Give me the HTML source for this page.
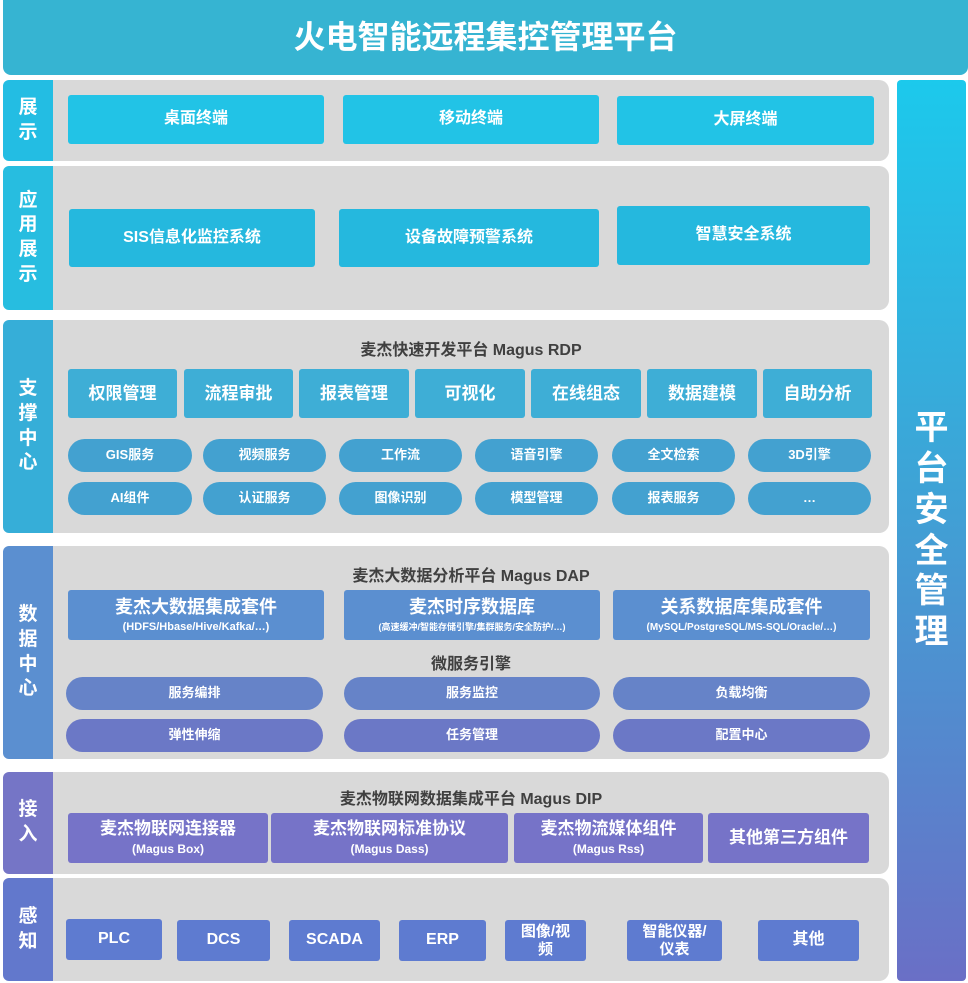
<!DOCTYPE html>
<html><head><meta charset="utf-8"><style>
body{margin:0;width:968px;height:983px;background:#fff;position:relative;overflow:hidden;font-family:"Liberation Sans","Noto Sans CJK SC",sans-serif;font-weight:bold}
div{position:absolute;box-sizing:border-box}
.c{display:flex;align-items:center;justify-content:center;text-align:center;color:#fff;flex-direction:column;line-height:1.15}
.p{background:#d9d9d9;border-radius:0 10px 10px 0}
.l{border-radius:6px 0 0 6px;font-size:19px;line-height:1.3;padding:0 2px}
.b{border-radius:3px}
.t{color:#404040;font-size:16px;text-align:center;white-space:nowrap}
.pill{border-radius:17px;font-size:13px}
</style></head><body>
<div class="c" style="left:3px;top:0;width:965px;height:75px;background:#36b4d2;border-radius:0 0 8px 8px;font-size:32px">火电智能远程集控管理平台</div>
<div class="c" style="left:897px;top:80px;width:69px;height:901px;border-radius:4px;background:linear-gradient(#1cc9ec,#3ea3d6 45%,#6a6fc6);font-size:34px;line-height:1.2">平<br>台<br>安<br>全<br>管<br>理</div>

<!-- 展示 -->
<div class="p" style="left:53px;top:80px;width:836px;height:81px"></div>
<div class="c l" style="left:3px;top:80px;width:50px;height:81px;background:#23bde3">展<br>示</div>
<div class="c b" style="left:68px;top:95px;width:256px;height:49px;background:#22c3e6;font-size:16px">桌面终端</div>
<div class="c b" style="left:343px;top:95px;width:256px;height:49px;background:#22c3e6;font-size:16px">移动终端</div>
<div class="c b" style="left:617px;top:96px;width:257px;height:49px;background:#22c3e6;font-size:16px">大屏终端</div>

<!-- 应用展示 -->
<div class="p" style="left:53px;top:166px;width:836px;height:144px"></div>
<div class="c l" style="left:3px;top:166px;width:50px;height:144px;background:#27bde0">应<br>用<br>展<br>示</div>
<div class="c b" style="left:69px;top:209px;width:246px;height:58px;background:#25b8de;font-size:16px">SIS信息化监控系统</div>
<div class="c b" style="left:339px;top:209px;width:260px;height:58px;background:#25b8de;font-size:16px">设备故障预警系统</div>
<div class="c b" style="left:617px;top:206px;width:253px;height:59px;background:#25b8de;font-size:16px">智慧安全系统</div>

<!-- 支撑中心 -->
<div class="p" style="left:53px;top:320px;width:836px;height:213px"></div>
<div class="c l" style="left:3px;top:320px;width:50px;height:213px;background:#36aed8">支<br>撑<br>中<br>心</div>
<div class="t" style="left:53px;top:336px;width:836px">麦杰快速开发平台 Magus RDP</div>
<div class="c b" style="left:68px;top:369px;width:109px;height:49px;background:#3eaed6;font-size:17px">权限管理</div>
<div class="c b" style="left:184px;top:369px;width:109px;height:49px;background:#3eaed6;font-size:17px">流程审批</div>
<div class="c b" style="left:299px;top:369px;width:110px;height:49px;background:#3eaed6;font-size:17px">报表管理</div>
<div class="c b" style="left:415px;top:369px;width:110px;height:49px;background:#3eaed6;font-size:17px">可视化</div>
<div class="c b" style="left:531px;top:369px;width:110px;height:49px;background:#3eaed6;font-size:17px">在线组态</div>
<div class="c b" style="left:647px;top:369px;width:110px;height:49px;background:#3eaed6;font-size:17px">数据建模</div>
<div class="c b" style="left:763px;top:369px;width:109px;height:49px;background:#3eaed6;font-size:17px">自助分析</div>
<div class="c pill" style="left:68px;top:439px;width:124px;height:33px;background:#43a1d0">GIS服务</div>
<div class="c pill" style="left:203px;top:439px;width:123px;height:33px;background:#43a1d0">视频服务</div>
<div class="c pill" style="left:339px;top:439px;width:123px;height:33px;background:#43a1d0">工作流</div>
<div class="c pill" style="left:475px;top:439px;width:123px;height:33px;background:#43a1d0">语音引擎</div>
<div class="c pill" style="left:612px;top:439px;width:123px;height:33px;background:#43a1d0">全文检索</div>
<div class="c pill" style="left:748px;top:439px;width:123px;height:33px;background:#43a1d0">3D引擎</div>
<div class="c pill" style="left:68px;top:482px;width:124px;height:33px;background:#43a1d0">AI组件</div>
<div class="c pill" style="left:203px;top:482px;width:123px;height:33px;background:#43a1d0">认证服务</div>
<div class="c pill" style="left:339px;top:482px;width:123px;height:33px;background:#43a1d0">图像识别</div>
<div class="c pill" style="left:475px;top:482px;width:123px;height:33px;background:#43a1d0">模型管理</div>
<div class="c pill" style="left:612px;top:482px;width:123px;height:33px;background:#43a1d0">报表服务</div>
<div class="c pill" style="left:748px;top:482px;width:123px;height:33px;background:#43a1d0">…</div>

<!-- 数据中心 -->
<div class="p" style="left:53px;top:546px;width:836px;height:213px"></div>
<div class="c l" style="left:3px;top:546px;width:50px;height:213px;background:#5b8fd0">数<br>据<br>中<br>心</div>
<div class="t" style="left:53px;top:562px;width:836px">麦杰大数据分析平台 Magus DAP</div>
<div class="c b" style="left:68px;top:590px;width:256px;height:50px;background:#5b8fd0;font-size:18px">麦杰大数据集成套件<span style="font-size:11px;margin-top:3px">(HDFS/Hbase/Hive/Kafka/…)</span></div>
<div class="c b" style="left:344px;top:590px;width:256px;height:50px;background:#5b8fd0;font-size:18px">麦杰时序数据库<span style="font-size:9px;margin-top:4px">(高速缓冲/智能存储引擎/集群服务/安全防护/…)</span></div>
<div class="c b" style="left:613px;top:590px;width:257px;height:50px;background:#5b8fd0;font-size:18px">关系数据库集成套件<span style="font-size:10px;margin-top:4px">(MySQL/PostgreSQL/MS-SQL/Oracle/…)</span></div>
<div class="t" style="left:53px;top:650px;width:836px">微服务引擎</div>
<div class="c pill" style="left:66px;top:677px;width:257px;height:33px;background:#6683c8">服务编排</div>
<div class="c pill" style="left:344px;top:677px;width:256px;height:33px;background:#6683c8">服务监控</div>
<div class="c pill" style="left:613px;top:677px;width:257px;height:33px;background:#6683c8">负载均衡</div>
<div class="c pill" style="left:66px;top:719px;width:257px;height:33px;background:#6b78c6">弹性伸缩</div>
<div class="c pill" style="left:344px;top:719px;width:256px;height:33px;background:#6b78c6">任务管理</div>
<div class="c pill" style="left:613px;top:719px;width:257px;height:33px;background:#6b78c6">配置中心</div>

<!-- 接入 -->
<div class="p" style="left:53px;top:772px;width:836px;height:102px"></div>
<div class="c l" style="left:3px;top:772px;width:50px;height:102px;background:#7575c6">接<br>入</div>
<div class="t" style="left:53px;top:785px;width:836px">麦杰物联网数据集成平台 Magus DIP</div>
<div class="c b" style="left:68px;top:813px;width:200px;height:50px;background:#7673c8;font-size:17px">麦杰物联网连接器<span style="font-size:12px;margin-top:4px">(Magus Box)</span></div>
<div class="c b" style="left:271px;top:813px;width:237px;height:50px;background:#7673c8;font-size:17px">麦杰物联网标准协议<span style="font-size:12px;margin-top:4px">(Magus Dass)</span></div>
<div class="c b" style="left:514px;top:813px;width:189px;height:50px;background:#7673c8;font-size:17px">麦杰物流媒体组件<span style="font-size:12px;margin-top:4px">(Magus Rss)</span></div>
<div class="c b" style="left:708px;top:813px;width:161px;height:50px;background:#7673c8;font-size:17px">其他第三方组件</div>

<!-- 感知 -->
<div class="p" style="left:53px;top:878px;width:836px;height:103px"></div>
<div class="c l" style="left:3px;top:878px;width:50px;height:103px;background:#6278cc">感<br>知</div>
<div class="c b" style="left:66px;top:919px;width:96px;height:41px;background:#5e7bd0;font-size:16px">PLC</div>
<div class="c b" style="left:177px;top:920px;width:93px;height:41px;background:#5e7bd0;font-size:16px">DCS</div>
<div class="c b" style="left:289px;top:920px;width:91px;height:41px;background:#5e7bd0;font-size:16px">SCADA</div>
<div class="c b" style="left:399px;top:920px;width:87px;height:41px;background:#5e7bd0;font-size:16px">ERP</div>
<div class="c b" style="left:505px;top:920px;width:81px;height:41px;background:#5e7bd0;font-size:15px">图像/视<br>频</div>
<div class="c b" style="left:627px;top:920px;width:95px;height:41px;background:#5e7bd0;font-size:15px">智能仪器/<br>仪表</div>
<div class="c b" style="left:758px;top:920px;width:101px;height:41px;background:#5e7bd0;font-size:16px">其他</div>
</body></html>
